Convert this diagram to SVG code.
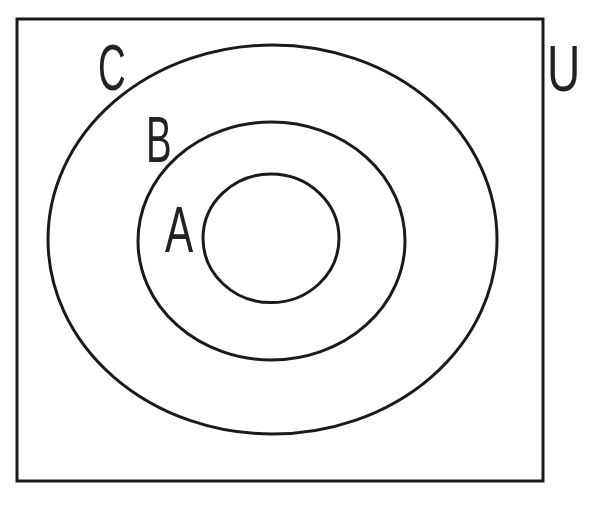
<svg xmlns="http://www.w3.org/2000/svg" width="594" height="510" viewBox="0 0 594 510">
<style>
.ln{fill:none;stroke:#1a1a1a;stroke-width:3}
.lb{font-family:"Liberation Sans",Arial,sans-serif;font-size:64px;fill:#222}
</style>
<rect width="594" height="510" fill="#fff"/>
<g id="U">
<rect class="ln" x="17" y="19" width="526" height="462"/>
<text class="lb" transform="translate(547,91) scale(0.72,1)">U</text>
</g>
<g id="C">
<ellipse class="ln" cx="272.5" cy="239.5" rx="224.5" ry="194.5"/>
<text class="lb" transform="translate(98,90) scale(0.6,1)">C</text>
</g>
<g id="B">
<ellipse class="ln" cx="271.5" cy="241" rx="133.5" ry="119"/>
<text class="lb" transform="translate(146,162) scale(0.6,1)">B</text>
</g>
<g id="A">
<ellipse class="ln" cx="271" cy="238.3" rx="68" ry="64.3"/>
<text class="lb" transform="translate(165,252) scale(0.66,1)">A</text>
</g>
<g id="connectors"/>
</svg>
